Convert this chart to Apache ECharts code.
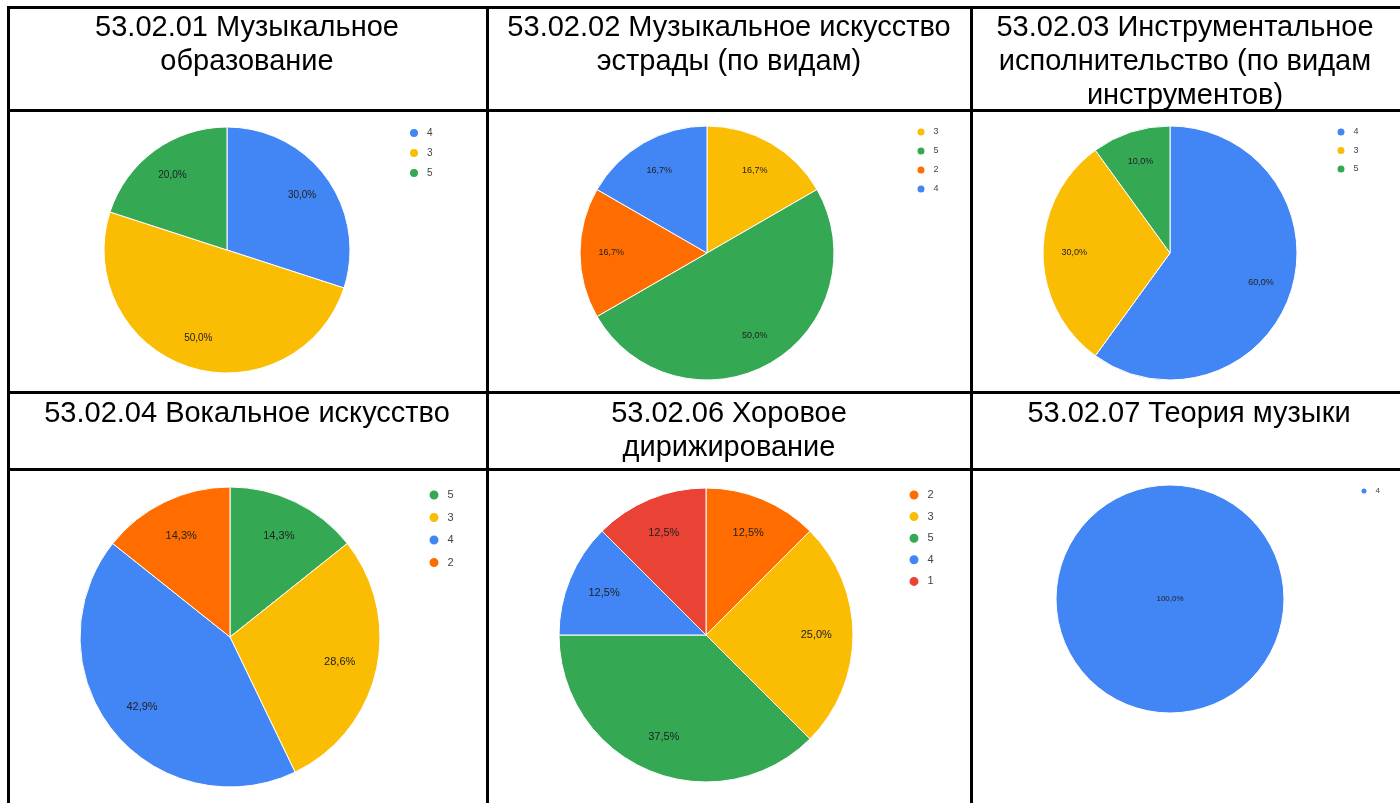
<!DOCTYPE html>
<html>
<head>
<meta charset="utf-8">
<script src="https://cdn.jsdelivr.net/npm/echarts@6/dist/echarts.min.js"></script>
<style>
html,body{margin:0;padding:0;background:#fff;}
#main{width:1400px;height:803px;}
</style>
</head>
<body>
<div id="main"></div>
<script>
// ---- data ----
const titles = [
  '53.02.01 Музыкальное\nобразование',
  '53.02.02 Музыкальное искусство\nэстрады (по видам)',
  '53.02.03 Инструментальное\nисполнительство (по видам\nинструментов)',
  '53.02.04 Вокальное искусство',
  '53.02.06 Хоровое\nдирижирование',
  '53.02.07 Теория музыки'
];
const cats1 = ['4', '3', '5'];
const vals1 = [3, 5, 2];
const cats2 = ['3', '5', '2', '4'];
const vals2 = [1, 3, 1, 1];
const cats3 = ['4', '3', '5'];
const vals3 = [6, 3, 1];
const cats4 = ['5', '3', '4', '2'];
const vals4 = [1, 2, 3, 1];
const cats5 = ['2', '3', '5', '4', '1'];
const vals5 = [1, 2, 3, 1, 1];
const cats6 = ['4'];
const vals6 = [1];

// ---- styling / layout ----
const colorOf = {'1': '#EA4335', '2': '#FF6D01', '3': '#FBBC04', '4': '#4285F4', '5': '#34A853'};
const charts = [
  {cats: cats1, vals: vals1, c: [227, 250], r: 123, lf: 10, lg: {x: 413, y: 133, step: 20, icon: 10, fs: 10}},
  {cats: cats2, vals: vals2, c: [707, 253], r: 127, lf: 9,  lg: {x: 920, y: 132, step: 19, icon: 9, fs: 9}},
  {cats: cats3, vals: vals3, c: [1170, 253], r: 127, lf: 9, lg: {x: 1340, y: 132, step: 18.5, icon: 9, fs: 9}},
  {cats: cats4, vals: vals4, c: [230, 637], r: 150, lf: 11, lg: {x: 433, y: 495, step: 22.5, icon: 11, fs: 11}},
  {cats: cats5, vals: vals5, c: [706, 635], r: 147, lf: 11, lg: {x: 913, y: 495, step: 21.6, icon: 11, fs: 11}},
  {cats: cats6, vals: vals6, c: [1170, 599], r: 114, lf: 8, lg: {x: 1363, y: 491, step: 18, icon: 7, fs: 8}, center: true}
];

const series = [];
const legends = [];
charts.forEach((ch, i) => {
  const data = ch.cats.map((n, k) => ({name: n, value: ch.vals[k], itemStyle: {color: colorOf[n]}}));
  series.push({
    type: 'pie', center: ch.c, radius: [0, ch.r], startAngle: 90, clockwise: true,
    data: data, label: {show: false}, labelLine: {show: false},
    itemStyle: {borderColor: '#fff', borderWidth: 1},
    emphasis: {disabled: true}, silent: true, animation: false
  });
  const lh = Math.max(ch.lg.icon, ch.lg.fs + 2);
  legends.push({
    orient: 'vertical', left: ch.lg.x - ch.lg.icon / 2, top: ch.lg.y - lh / 2,
    padding: 0, icon: 'circle', itemWidth: ch.lg.icon, itemHeight: ch.lg.icon,
    itemGap: ch.lg.step - lh, data: ch.cats, selectedMode: false,
    textStyle: {fontFamily: 'Arial, "Liberation Sans"', fontSize: ch.lg.fs, color: '#444', lineHeight: lh, padding: [0, 0, 0, 3]}
  });
});
charts.forEach((ch, i) => {
  const total = ch.vals.reduce((a, b) => a + b, 0);
  const data = ch.cats.map((n, k) => ({name: n, value: ch.vals[k]}));
  series.push({
    type: 'pie', center: ch.c, radius: ch.center ? [0, ch.r] : [ch.r * 0.46, ch.r],
    startAngle: 90, clockwise: true,
    data: data, itemStyle: {color: 'transparent'},
    label: {show: true, position: ch.center ? 'center' : 'inner',
      formatter: p => (p.value / total * 100).toFixed(1).replace('.', ',') + '%',
      fontFamily: 'Arial, "Liberation Sans"', fontSize: ch.lf, color: '#222'},
    labelLine: {show: false}, emphasis: {disabled: true}, silent: true, animation: false
  });
});

// table lines
const L = 3;
const rects = [
  [7, 6, L, 797], [486, 6, L, 797], [970, 6, L, 797],
  [7, 6, 1393, L], [7, 109, 1393, L], [7, 391, 1393, L], [7, 468, 1393, L]
];
const graphics = rects.map(r => ({type: 'rect', shape: {x: r[0], y: r[1], width: r[2], height: r[3]}, style: {fill: '#000'}, z: 10}));
const tpos = [[247, 11], [729, 11], [1185, 11], [247, 397], [729, 397], [1189, 397]];
titles.forEach((t, i) => {
  graphics.push({type: 'text', x: tpos[i][0], y: tpos[i][1], z: 10,
    style: {text: t, fill: '#000', font: '29px "Liberation Sans", Arial', align: 'center', verticalAlign: 'top', lineHeight: 34}});
});

const chart = echarts.init(document.getElementById('main'), null, {renderer: 'canvas'});
chart.setOption({
  backgroundColor: '#fff',
  animation: false,
  legend: legends,
  series: series,
  graphic: graphics
});
</script>
</body>
</html>
